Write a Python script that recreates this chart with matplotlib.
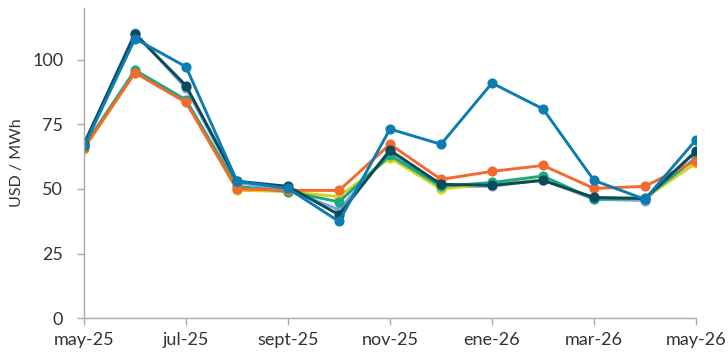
import matplotlib.pyplot as plt

plt.rcParams['font.family'] = ['Lato', 'DejaVu Sans']

months = ['may-25', 'jun-25', 'jul-25', 'ago-25', 'sept-25', 'oct-25', 'nov-25',
          'dic-25', 'ene-26', 'feb-26', 'mar-26', 'abr-26', 'may-26']

s_lightblue = [67.0, 110.5, 89.0, 52.5, 49.5, 42.0, 64.5, 51.0, 51.0, 53.5, 46.0, 45.5, 64.5]
s_yellow = [65.5, 95.0, 84.0, 49.5, 49.0, 47.0, 62.0, 50.0, 52.0, 53.5, 46.5, 46.5, 60.0]
s_green = [66.5, 96.0, 84.5, 51.0, 49.0, 45.0, 63.0, 51.0, 52.5, 55.0, 46.0, 46.5, 62.0]
s_orange = [66.0, 95.0, 83.5, 50.0, 49.5, 49.4, 67.3, 53.7, 56.8, 59.1, 50.2, 51.0, 61.0]
s_darkteal = [67.5, 110.0, 90.0, 53.0, 51.0, 40.0, 65.0, 51.8, 51.4, 53.3, 46.7, 46.3, 64.6]
s_blue = [66.5, 108.2, 97.3, 53.0, 50.2, 37.4, 73.2, 67.3, 91.0, 81.0, 53.3, 46.0, 69.0]

series = [
    (s_lightblue, '#7aa6d6'),
    (s_yellow, '#d7d21c'),
    (s_green, '#1ca884'),
    (s_orange, '#f26a2e'),
    (s_darkteal, '#0b4a5a'),
    (s_blue, '#0b7db3'),
]

fig = plt.figure(figsize=(7.28, 3.55), dpi=100)
ax = fig.add_axes([0.1154, 0.104, 0.8406, 0.873])

x = list(range(len(months)))
for vals, col in series:
    ax.plot(x, vals, color=col, lw=2.1, marker='o', ms=7.3,
            markeredgewidth=0, solid_joinstyle='round')

ax.set_xlim(0, len(months) - 1)
ax.set_ylim(0, 120)
ax.set_xticks(x[::2])
ax.set_xticklabels(months[::2])
ax.set_yticks([0, 25, 50, 75, 100])
ax.set_ylabel('USD / MWh', fontsize=11.5, color='#333333', labelpad=6)

for side in ['top', 'right']:
    ax.spines[side].set_visible(False)
for side in ['left', 'bottom']:
    ax.spines[side].set_color('#aaaaaa')
    ax.spines[side].set_linewidth(1.0)
ax.tick_params(axis='both', colors='#aaaaaa', length=5, width=1.0,
               labelsize=13, labelcolor='#333333')
ax.tick_params(axis='x', pad=5)
ax.tick_params(axis='y', pad=10)

fig.savefig('out.png', dpi=100)
